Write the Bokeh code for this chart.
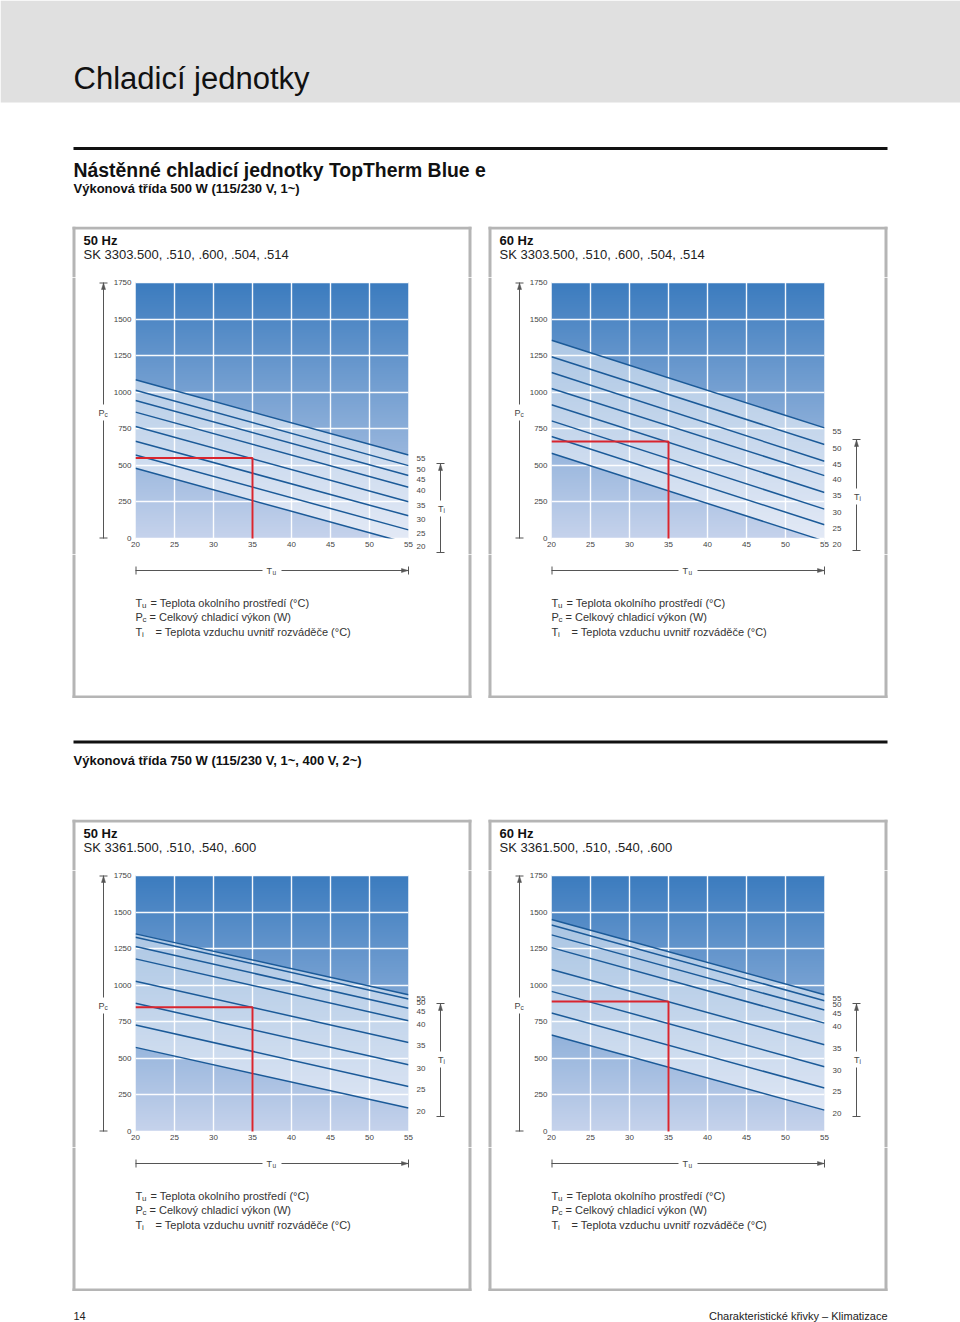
import numpy as np
from bokeh.plotting import figure
from bokeh.models import Range1d, FixedTicker
from bokeh.layouts import column, row
from bokeh.embed import file_html
from bokeh.resources import INLINE
from bokeh.core.properties import value

FONT = "Liberation Sans"

# ---------------- data ----------------
tu_ticks = [20, 25, 30, 35, 40, 45, 50, 55]
pc_ticks = [0, 250, 500, 750, 1000, 1250, 1500, 1750]
tu_ends = [20, 55]                      # ambient temperature at the two ends of each curve
ti_levels = [55, 50, 45, 40, 35, 30, 25, 20]

# cooling output Pc (W) at Tu = 20 and at Tu = 55, one value per Ti curve
pc20_500_50 = [1085, 1014, 944, 864, 765, 665, 571, 480]
pc55_500_50 = [571, 498, 430, 350, 251, 155, 59, -34]
op_500_50 = [35, 550]

pc20_500_60 = [1355, 1243, 1135, 1026, 914, 804, 697, 583]
pc55_500_60 = [756, 642, 528, 430, 315, 201, 94, -18]
op_500_60 = [35, 663]

pc20_750_50 = [1351, 1328, 1264, 1180, 1027, 876, 728, 575]
pc55_750_50 = [935, 906, 842, 757, 609, 456, 308, 160]
op_750_50 = [35, 849]

pc20_750_60 = [1449, 1412, 1344, 1257, 1107, 958, 810, 659]
pc55_750_60 = [935, 894, 830, 741, 593, 443, 297, 146]
op_750_60 = [35, 888]

legend_rows = [("T", "u", "= Teplota okolního prostředí (°C)"),
               ("P", "c", "= Celkový chladicí výkon (W)"),
               ("T", "i", "= Teplota vzduchu uvnitř rozváděče (°C)")]

page_title = "Chladicí jednotky"
section1 = "Nástěnné chladicí jednotky TopTherm Blue e"
class1 = "Výkonová třída 500 W (115/230 V, 1~)"
class2 = "Výkonová třída 750 W (115/230 V, 1~, 400 V, 2~)"
footer_left = "14"
footer_right = "Charakteristické křivky – Klimatizace"

# ---------------- styling ----------------
FW, FH = 273, 256
GC = "#555555"
BOX_C = "#b5b5b5"
LINE_C = "#1b5a98"
RED = "#d9252e"
TOP_C = np.array([60, 124, 191])
BOT_C = np.array([198, 211, 236])


def bare(x0, x1, y0, y1, yr=None):
    p = figure(width=int(x1 - x0), height=int(y1 - y0), x_range=Range1d(x0, x1),
               y_range=yr if yr is not None else Range1d(y1, y0),
               toolbar_location=None, output_backend="svg", min_border=0,
               x_axis_location=None, y_axis_location=None)
    p.grid.visible = False
    p.outline_line_color = None
    p.background_fill_color = "white"
    p.border_fill_color = "white"
    return p


def qd(p, l, r, t, b, color=BOX_C):
    p.quad(left=[l], right=[r], top=[t], bottom=[b], fill_color=color, line_color=None)


def txt(p, x, y, s, size, bold=False, color="#222222", align="left"):
    p.text(x=[x], y=[y], text=[s], text_font=value(FONT), text_font_size=value(size),
           text_font_style=value("bold" if bold else "normal"), text_color=value(color),
           text_baseline=value("middle"), text_align=value(align))


def seg(p, x0, y0, x1, y1):
    p.segment(x0=[x0], y0=[y0], x1=[x1], y1=[y1], line_color=GC, line_width=1)


def tri(p, xs, ys):
    p.patch(x=xs, y=ys, fill_color=GC, line_color=GC, line_width=0.5)


def gradient():
    n = 256
    t = np.linspace(0, 1, n)[:, None]
    cols = (BOT_C + (TOP_C - BOT_C) * t).astype(np.uint8)
    img = np.zeros((n, 2), dtype=np.uint32)
    v = img.view(dtype=np.uint8).reshape((n, 2, 4))
    for k in range(2):
        v[:, k, 0] = cols[:, 0]
        v[:, k, 1] = cols[:, 1]
        v[:, k, 2] = cols[:, 2]
        v[:, k, 3] = 255
    return img


def panel(px0, px1, py0, py1, FL, FT, bx0, bx1, hz, models, pc20, pc55, op, ti_box):
    L, R = 26, 6
    cx0, cx1 = FL - L, FL + FW + R
    cy0, cy1 = FT - 5, FT + FH + 16

    def Yd(py):
        return (FT + FH - py) * 1750.0 / FH

    # ---- title strip ----
    ts = bare(px0, px1, py0, cy0)
    qd(ts, bx0, bx1, py0, py0 + 3)
    qd(ts, bx0, bx0 + 3, py0, cy0)
    qd(ts, bx1 - 3, bx1, py0, cy0)
    txt(ts, FL - 52, FT - 42, hz, "13px", bold=True, color="#111111")
    txt(ts, FL - 52, FT - 28, models, "13px", color="#222222")

    # ---- left strip (Pc bracket) ----
    ls = bare(px0, cx0, cy0, cy1)
    qd(ls, bx0, bx0 + 3, cy0, cy1)
    bx = FL - 32
    seg(ls, bx, FT + FH, bx, FT + 138)
    seg(ls, bx, FT + 122, bx, FT)
    seg(ls, bx - 4, FT + 0.5, bx + 4, FT + 0.5)
    seg(ls, bx - 4, FT + FH - 0.5, bx + 4, FT + FH - 0.5)
    tri(ls, [bx - 2, bx + 2, bx], [FT + 7, FT + 7, FT + 0.5])
    txt(ls, FL - 37, FT + 130, "P", "9px", color="#444444")
    txt(ls, FL - 31, FT + 132, "c", "6.5px", color="#444444")

    # ---- chart (frame includes a small white margin above and below the plot area) ----
    p = figure(frame_width=FW, frame_height=cy1 - cy0, x_range=Range1d(20, 55),
               y_range=Range1d(Yd(cy1), Yd(cy0)),
               min_border_left=L, min_border_right=R, min_border_top=0, min_border_bottom=0,
               toolbar_location=None, output_backend="svg")
    p.outline_line_color = None
    p.background_fill_color = "white"
    p.border_fill_color = "white"
    p.xaxis.ticker = FixedTicker(ticks=tu_ticks)
    p.yaxis.ticker = FixedTicker(ticks=pc_ticks)
    for ax in p.axis:
        ax.axis_line_color = None
        ax.major_tick_line_color = None
        ax.minor_tick_line_color = None
        ax.major_tick_out = 0
        ax.major_tick_in = 0
        ax.major_label_text_font = FONT
        ax.major_label_text_font_size = "8px"
        ax.major_label_text_color = "#444444"
    p.xaxis.major_label_standoff = -13
    p.yaxis.major_label_standoff = 4
    p.grid.grid_line_color = "white"
    p.grid.grid_line_width = 1.4
    p.grid.grid_line_alpha = 0.95
    p.image_rgba(image=[gradient()], x=20, y=0, dw=35, dh=1750, level="image")
    p.varea(x=tu_ends, y1=[pc20[-1], pc55[-1]], y2=[pc20[0], pc55[0]],
            fill_color="white", fill_alpha=0.5)
    p.multi_line(xs=[tu_ends] * len(ti_levels), ys=[[a, b] for a, b in zip(pc20, pc55)],
                 line_color=LINE_C, line_width=1.5)
    # white mask below Pc = 0 (plot area ends at the axis)
    p.quad(left=[20], right=[55], top=[0], bottom=[Yd(cy1)], fill_color="white", line_color=None)
    p.line(x=[20, op[0], op[0]], y=[op[1], op[1], 0], line_color=RED, line_width=2)

    # ---- right strip (Ti labels + bracket), y in Pc units ----
    rs = bare(cx1, px1, cy0, cy1, yr=Range1d(Yd(cy1), Yd(cy0)))
    qd(rs, bx1 - 3, bx1, Yd(cy0), Yd(cy1))
    rs.text(x=[FL + 281] * len(ti_levels), y=[v - 3.5 * 1750.0 / FH for v in pc55],
            text=[str(t) for t in ti_levels], text_font=value(FONT), text_font_size=value("8px"),
            text_color=value("#444444"), text_baseline=value("middle"), text_align=value("left"))
    tx = FL + 305
    t_top, t_bot, t_lab = ti_box
    seg(rs, tx, Yd(FT + t_bot), tx, Yd(FT + t_lab + 8))
    seg(rs, tx, Yd(FT + t_lab - 8), tx, Yd(FT + t_top))
    seg(rs, tx - 4, Yd(FT + t_top), tx + 4, Yd(FT + t_top))
    seg(rs, tx - 4, Yd(FT + t_bot), tx + 4, Yd(FT + t_bot))
    tri(rs, [tx - 2, tx + 2, tx], [Yd(FT + t_top + 7), Yd(FT + t_top + 7), Yd(FT + t_top + 0.5)])
    txt(rs, tx - 2.5, Yd(FT + t_lab), "T", "9px", color="#444444")
    txt(rs, tx + 3, Yd(FT + t_lab + 2), "i", "6.5px", color="#444444")

    # ---- bottom strip (Tu bracket + legend) ----
    bs = bare(px0, px1, cy1, py1)
    qd(bs, bx0, bx0 + 3, cy1, py1)
    qd(bs, bx1 - 3, bx1, cy1, py1)
    qd(bs, bx0, bx1, py1 - 3, py1)
    ty = FT + 288
    seg(bs, FL, ty, FL + 127, ty)
    seg(bs, FL + 146, ty, FL + FW, ty)
    seg(bs, FL + 0.5, ty - 4, FL + 0.5, ty + 4)
    seg(bs, FL + FW, ty - 4, FL + FW, ty + 4)
    tri(bs, [FL + FW - 7, FL + FW - 7, FL + FW - 0.5], [ty - 2, ty + 2, ty])
    txt(bs, FL + 131, ty, "T", "9px", color="#444444")
    txt(bs, FL + 137, ty + 2, "u", "6.5px", color="#444444")
    eq_x = [FL + 15, FL + 14, FL + 20]
    for k, (m, s, rest) in enumerate(legend_rows):
        yy = FT + 320 + 14.5 * k
        txt(bs, FL, yy, m, "11px", color="#333333")
        txt(bs, FL + (7 if m == "P" else 6.5), yy + 2.5, s, "8px", color="#333333")
        txt(bs, eq_x[k], yy, rest, "11px", color="#333333")

    return column(ts, row(ls, p, rs), bs)


# ---------------- header ----------------
hdr = bare(0, 960, 0, 226)
qd(hdr, 0, 960, 0, 102, color="#e0e0e0")
txt(hdr, 73, 78, page_title, "31px", color="#111111")
qd(hdr, 73, 887, 146.5, 149.5, color="#111111")
txt(hdr, 73, 169, section1, "19.4px", bold=True, color="#111111")
txt(hdr, 73, 188, class1, "13px", bold=True, color="#111111")

# ---------------- panels ----------------
tl = panel(0, 480, 226, 698, 135, 282, 72, 471, "50 Hz", "SK 3303.500, .510, .600, .504, .514",
           pc20_500_50, pc55_500_50, op_500_50, (181, 270, 226))
tr = panel(480, 960, 226, 698, 551, 282, 488, 887, "60 Hz", "SK 3303.500, .510, .600, .504, .514",
           pc20_500_60, pc55_500_60, op_500_60, (157, 268, 214))

mid = bare(0, 960, 698, 819)
qd(mid, 73, 887, 740, 743, color="#111111")
txt(mid, 73, 760, class2, "13px", bold=True, color="#111111")

bl = panel(0, 480, 819, 1291, 135, 875, 72, 471, "50 Hz", "SK 3361.500, .510, .540, .600",
           pc20_750_50, pc55_750_50, op_750_50, (128, 241, 184))
br = panel(480, 960, 819, 1291, 551, 875, 488, 887, "60 Hz", "SK 3361.500, .510, .540, .600",
           pc20_750_60, pc55_750_60, op_750_60, (128, 241, 184))

ftr = bare(0, 960, 1291, 1322)
txt(ftr, 73, 1315, footer_left, "11px", color="#222222")
txt(ftr, 887, 1315, footer_right, "11px", color="#222222", align="right")

layout = column(hdr, row(tl, tr), mid, row(bl, br), ftr)
open("out.html", "w").write(file_html(layout, INLINE))
